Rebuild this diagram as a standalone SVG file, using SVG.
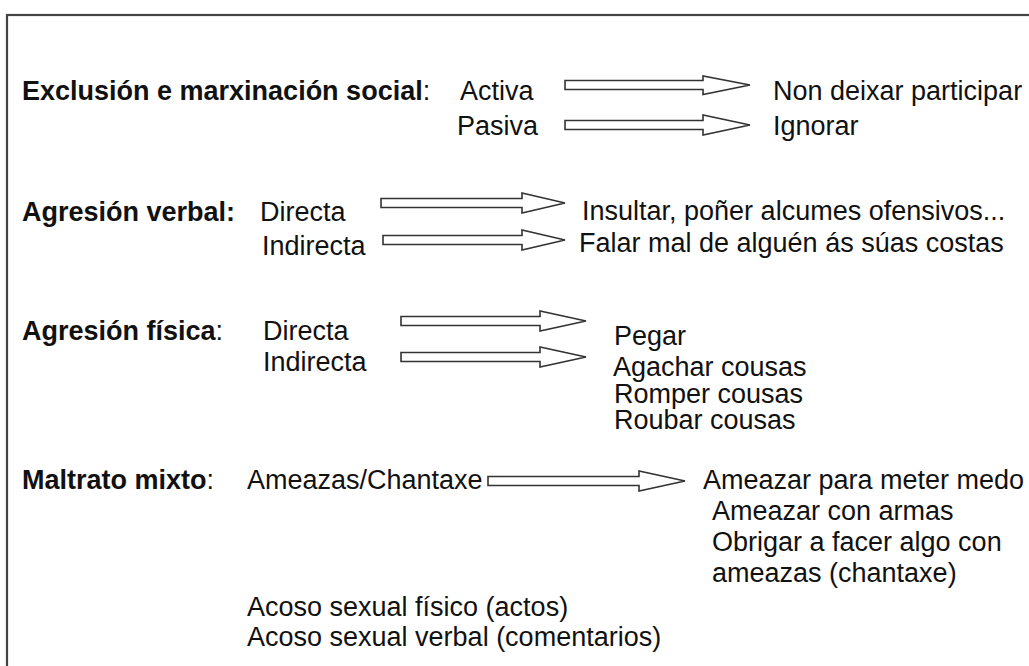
<svg xmlns="http://www.w3.org/2000/svg" width="1029" height="666" viewBox="0 0 1029 666">
<style>
text{font-family:"Liberation Sans",Arial,sans-serif;font-size:27px;fill:#111}
.b{font-weight:bold}
.arr{fill:#fff;stroke:#333;stroke-width:1.6;stroke-linejoin:miter}
.frame{fill:none;stroke:#444;stroke-width:2.2}
</style>
<rect class="frame" x="7" y="15" width="1040" height="680"/>
<g id="connectors">
<polygon class="arr" points="565,80.5 703,80.5 703,76 750,85 703,94.5 703,89.5 565,89.5"/>
<polygon class="arr" points="565,120.5 703,120.5 703,115 750,125 703,135 703,129.5 565,129.5"/>
<polygon class="arr" points="381,198.5 522,198.5 522,193 565,203 522,213 522,207.5 381,207.5"/>
<polygon class="arr" points="383,235.5 522,235.5 522,230 565,240 522,250 522,244.5 383,244.5"/>
<polygon class="arr" points="401,316.5 540,316.5 540,311 586,321 540,331 540,325.5 401,325.5"/>
<polygon class="arr" points="401,352.5 540,352.5 540,347 586,357 540,367 540,361.5 401,361.5"/>
<polygon class="arr" points="488,476.5 639,476.5 639,471 685,481 639,491 639,485.5 488,485.5"/>
</g>
<g id="exclusion">
<text x="22" y="100"><tspan class="b">Exclusión e marxinación social</tspan>:</text>
<text x="460" y="100">Activa</text>
<text x="457" y="135">Pasiva</text>
<text x="773" y="100">Non deixar participar</text>
<text x="773" y="135">Ignorar</text>
</g>
<g id="verbal">
<text x="22" y="221" class="b">Agresión verbal:</text>
<text x="260" y="221">Directa</text>
<text x="262" y="255">Indirecta</text>
<text x="582" y="220">Insultar, poñer alcumes ofensivos...</text>
<text x="579" y="252">Falar mal de alguén ás súas costas</text>
</g>
<g id="fisica">
<text x="22" y="340"><tspan class="b">Agresión física</tspan>:</text>
<text x="263" y="340">Directa</text>
<text x="263" y="371">Indirecta</text>
<text x="614" y="345">Pegar</text>
<text x="613" y="376">Agachar cousas</text>
<text x="614" y="403">Romper cousas</text>
<text x="614" y="429">Roubar cousas</text>
</g>
<g id="mixto">
<text x="22" y="489"><tspan class="b">Maltrato mixto</tspan>:</text>
<text x="247" y="489">Ameazas/Chantaxe</text>
<text x="703" y="489">Ameazar para meter medo</text>
<text x="712" y="520">Ameazar con armas</text>
<text x="712" y="551">Obrigar a facer algo con</text>
<text x="712" y="582">ameazas (chantaxe)</text>
<text x="247" y="616">Acoso sexual físico (actos)</text>
<text x="247" y="646">Acoso sexual verbal (comentarios)</text>
</g>
</svg>
